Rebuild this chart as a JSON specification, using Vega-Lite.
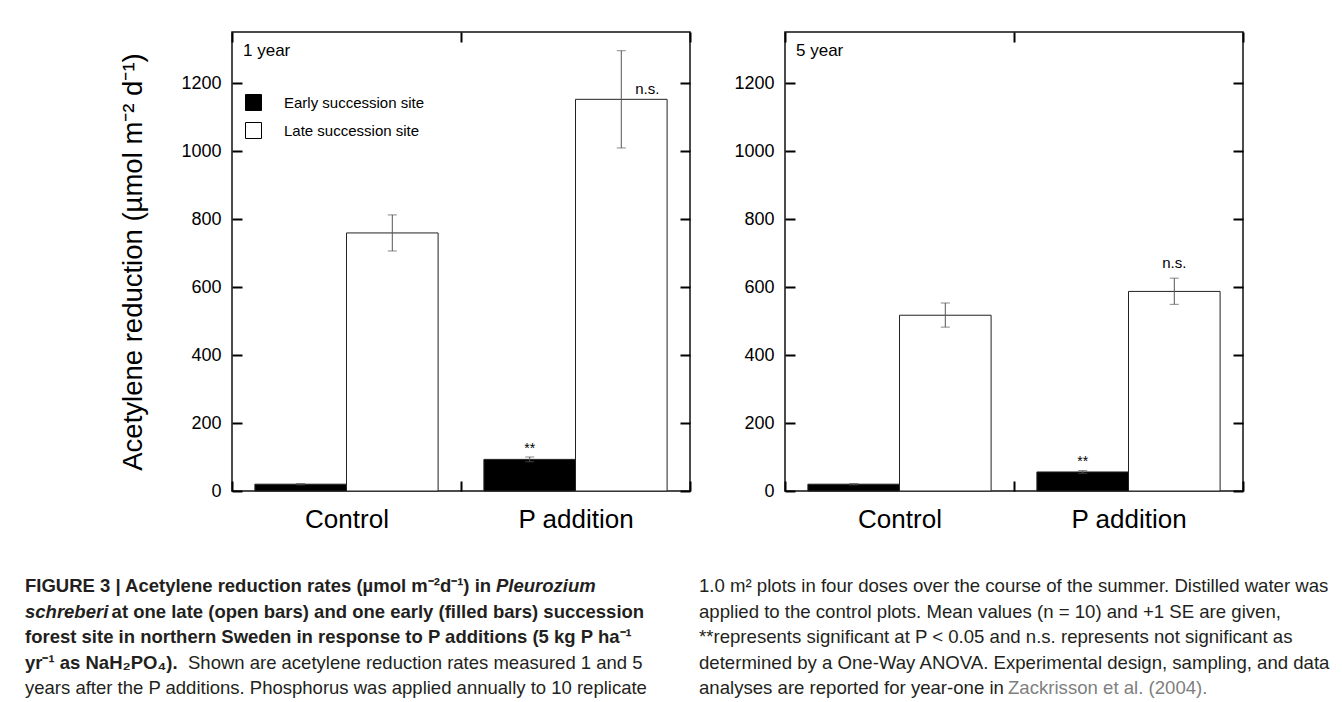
{
  "$schema": "https://vega.github.io/schema/vega-lite/v6.json",
  "padding": {"left": 25, "top": 30, "right": 0, "bottom": 0},
  "background": "white",
  "datasets": {
    "bars": [
      {"year": "1 year", "treatment": "Control", "site": "Early succession site", "mean": 20, "lo": 18, "hi": 22, "sig": ""},
      {"year": "1 year", "treatment": "Control", "site": "Late succession site", "mean": 759, "lo": 706, "hi": 812, "sig": ""},
      {"year": "1 year", "treatment": "P addition", "site": "Early succession site", "mean": 93, "lo": 86, "hi": 100, "sig": "**"},
      {"year": "1 year", "treatment": "P addition", "site": "Late succession site", "mean": 1152, "lo": 1009, "hi": 1295, "sig": "n.s."},
      {"year": "5 year", "treatment": "Control", "site": "Early succession site", "mean": 20, "lo": 18, "hi": 22, "sig": ""},
      {"year": "5 year", "treatment": "Control", "site": "Late succession site", "mean": 517, "lo": 482, "hi": 553, "sig": ""},
      {"year": "5 year", "treatment": "P addition", "site": "Early succession site", "mean": 56, "lo": 52, "hi": 60, "sig": "**"},
      {"year": "5 year", "treatment": "P addition", "site": "Late succession site", "mean": 587, "lo": 549, "hi": 626, "sig": "n.s."}
    ],
    "caption": [
      {"col": "L", "line": 1, "seg": "b", "text": "FIGURE 3 | Acetylene reduction rates (µmol m⁻²d⁻¹) in"},
      {"col": "L", "line": 1, "seg": "p1", "text": "Pleurozium"},
      {"col": "L", "line": 2, "seg": "bi", "text": "schreberi"},
      {"col": "L", "line": 2, "seg": "p2", "text": "at one late (open bars) and one early (filled bars) succession"},
      {"col": "L", "line": 3, "seg": "b", "text": "forest site in northern Sweden in response to P additions (5 kg P ha⁻¹"},
      {"col": "L", "line": 4, "seg": "b", "text": "yr⁻¹ as NaH₂PO₄)."},
      {"col": "L", "line": 4, "seg": "p4", "text": "Shown are acetylene reduction rates measured 1 and 5"},
      {"col": "L", "line": 5, "seg": "n", "text": "years after the P additions. Phosphorus was applied annually to 10 replicate"},
      {"col": "R", "line": 1, "seg": "n", "text": "1.0 m² plots in four doses over the course of the summer. Distilled water was"},
      {"col": "R", "line": 2, "seg": "n", "text": "applied to the control plots. Mean values (n = 10) and +1 SE are given,"},
      {"col": "R", "line": 3, "seg": "n", "text": "**represents significant at P < 0.05 and n.s. represents not significant as"},
      {"col": "R", "line": 4, "seg": "n", "text": "determined by a One-Way ANOVA. Experimental design, sampling, and data"},
      {"col": "R", "line": 5, "seg": "n", "text": "analyses are reported for year-one in"},
      {"col": "R", "line": 5, "seg": "p5", "text": "Zackrisson et al. (2004)."}
    ]
  },
  "concat": [
    {
      "width": 458,
      "height": 459,
      "data": {"name": "bars"},
      "transform": [{"filter": "datum.year === '1 year'"}],
      "layer": [
        {
          "mark": {"type": "bar", "stroke": "#222", "strokeWidth": 1},
          "encoding": {
            "x": {"field": "treatment", "type": "nominal", "scale": {"paddingInner": 0, "paddingOuter": 0},
              "axis": {"orient": "bottom", "title": null, "labelAngle": 0, "labelFontSize": 26, "labelPadding": 25, "tickSize": -10, "tickBand": "extent"}},
            "xOffset": {"field": "site", "type": "nominal", "scale": {"paddingInner": 0, "paddingOuter": 0.25}},
            "y": {"field": "mean", "type": "quantitative", "scale": {"domain": [0, 1350], "nice": false},
              "axis": {"orient": "left", "values": [0, 200, 400, 600, 800, 1000, 1200], "format": "d", "labelFontSize": 18, "labelPadding": 21, "tickSize": -10,
                "title": "Acetylene reduction (µmol m⁻² d⁻¹)", "titleFontSize": 27.5, "titleFontWeight": "normal", "titleColor": "black", "titlePadding": 33}},
            "color": {"field": "site", "type": "nominal",
              "scale": {"domain": ["Early succession site", "Late succession site"], "range": ["black", "white"]},
              "legend": {"orient": "none", "legendX": 13, "legendY": 62, "title": null, "symbolType": "square", "symbolSize": 256,
                "symbolStrokeColor": "black", "symbolStrokeWidth": 1, "labelFontSize": 15, "labelOffset": 22, "rowPadding": 7, "padding": 0, "labelColor": "black"}}
          }
        },
        {
          "mark": {"type": "rule", "color": "#555", "strokeWidth": 1},
          "encoding": {
            "x": {"field": "treatment", "type": "nominal", "axis": {"orient": "top", "labels": false, "title": null, "tickSize": -10, "tickBand": "extent"}},
            "xOffset": {"field": "site", "type": "nominal"},
            "y": {"field": "lo", "type": "quantitative", "axis": {"orient": "right", "labels": false, "title": null, "tickSize": -10, "values": [0, 200, 400, 600, 800, 1000, 1200]}},
            "y2": {"field": "hi"}
          }
        },
        {
          "mark": {"type": "tick", "color": "#555", "thickness": 1, "size": 9},
          "encoding": {
            "x": {"field": "treatment", "type": "nominal", "axis": null},
            "xOffset": {"field": "site", "type": "nominal"},
            "y": {"field": "lo", "type": "quantitative", "axis": null}
          }
        },
        {
          "mark": {"type": "tick", "color": "#555", "thickness": 1, "size": 9},
          "encoding": {
            "x": {"field": "treatment", "type": "nominal", "axis": null},
            "xOffset": {"field": "site", "type": "nominal"},
            "y": {"field": "hi", "type": "quantitative", "axis": null}
          }
        },
        {
          "transform": [{"filter": "datum.sig === '**'"}],
          "mark": {"type": "text", "baseline": "alphabetic", "fontSize": 14, "dy": -4, "color": "black"},
          "encoding": {
            "x": {"field": "treatment", "type": "nominal", "axis": null},
            "xOffset": {"field": "site", "type": "nominal"},
            "y": {"field": "hi", "type": "quantitative", "axis": null},
            "text": {"field": "sig"}
          }
        },
        {
          "transform": [{"filter": "datum.sig === 'n.s.'"}],
          "mark": {"type": "text", "baseline": "alphabetic", "fontSize": 15, "dx": 26, "dy": -5, "color": "black"},
          "encoding": {
            "x": {"field": "treatment", "type": "nominal", "axis": null},
            "xOffset": {"field": "site", "type": "nominal"},
            "y": {"field": "mean", "type": "quantitative", "axis": null},
            "text": {"field": "sig"}
          }
        },
        {
          "data": {"values": [{"label": "1 year"}]},
          "mark": {"type": "text", "align": "left", "baseline": "alphabetic", "fontSize": 17, "dx": 11, "color": "black"},
          "encoding": {
            "x": {"datum": "Control", "type": "nominal", "bandPosition": 0, "axis": null},
            "y": {"datum": 1279, "type": "quantitative", "axis": null},
            "text": {"field": "label"}
          }
        }
      ]
    },
    {
      "width": 458,
      "height": 459,
      "data": {"name": "bars"},
      "transform": [{"filter": "datum.year === '5 year'"}],
      "layer": [
        {
          "mark": {"type": "bar", "stroke": "#222", "strokeWidth": 1},
          "encoding": {
            "x": {"field": "treatment", "type": "nominal", "scale": {"paddingInner": 0, "paddingOuter": 0},
              "axis": {"orient": "bottom", "title": null, "labelAngle": 0, "labelFontSize": 26, "labelPadding": 25, "tickSize": -10, "tickBand": "extent"}},
            "xOffset": {"field": "site", "type": "nominal", "scale": {"paddingInner": 0, "paddingOuter": 0.25}},
            "y": {"field": "mean", "type": "quantitative", "scale": {"domain": [0, 1350], "nice": false},
              "axis": {"orient": "left", "values": [0, 200, 400, 600, 800, 1000, 1200], "format": "d", "labelFontSize": 18, "labelPadding": 21, "tickSize": -10, "title": null}},
            "color": {"field": "site", "type": "nominal",
              "scale": {"domain": ["Early succession site", "Late succession site"], "range": ["black", "white"]},
              "legend": null}
          }
        },
        {
          "mark": {"type": "rule", "color": "#555", "strokeWidth": 1},
          "encoding": {
            "x": {"field": "treatment", "type": "nominal", "axis": {"orient": "top", "labels": false, "title": null, "tickSize": -10, "tickBand": "extent"}},
            "xOffset": {"field": "site", "type": "nominal"},
            "y": {"field": "lo", "type": "quantitative", "axis": {"orient": "right", "labels": false, "title": null, "tickSize": -10, "values": [0, 200, 400, 600, 800, 1000, 1200]}},
            "y2": {"field": "hi"}
          }
        },
        {
          "mark": {"type": "tick", "color": "#555", "thickness": 1, "size": 9},
          "encoding": {
            "x": {"field": "treatment", "type": "nominal", "axis": null},
            "xOffset": {"field": "site", "type": "nominal"},
            "y": {"field": "lo", "type": "quantitative", "axis": null}
          }
        },
        {
          "mark": {"type": "tick", "color": "#555", "thickness": 1, "size": 9},
          "encoding": {
            "x": {"field": "treatment", "type": "nominal", "axis": null},
            "xOffset": {"field": "site", "type": "nominal"},
            "y": {"field": "hi", "type": "quantitative", "axis": null}
          }
        },
        {
          "transform": [{"filter": "datum.sig === '**'"}],
          "mark": {"type": "text", "baseline": "alphabetic", "fontSize": 14, "dy": -5, "color": "black"},
          "encoding": {
            "x": {"field": "treatment", "type": "nominal", "axis": null},
            "xOffset": {"field": "site", "type": "nominal"},
            "y": {"field": "hi", "type": "quantitative", "axis": null},
            "text": {"field": "sig"}
          }
        },
        {
          "transform": [{"filter": "datum.sig === 'n.s.'"}],
          "mark": {"type": "text", "baseline": "alphabetic", "fontSize": 15, "dy": -10, "color": "black"},
          "encoding": {
            "x": {"field": "treatment", "type": "nominal", "axis": null},
            "xOffset": {"field": "site", "type": "nominal"},
            "y": {"field": "hi", "type": "quantitative", "axis": null},
            "text": {"field": "sig"}
          }
        },
        {
          "data": {"values": [{"label": "5 year"}]},
          "mark": {"type": "text", "align": "left", "baseline": "alphabetic", "fontSize": 17, "dx": 11, "color": "black"},
          "encoding": {
            "x": {"datum": "Control", "type": "nominal", "bandPosition": 0, "axis": null},
            "y": {"datum": 1279, "type": "quantitative", "axis": null},
            "text": {"field": "label"}
          }
        }
      ]
    },
    {
      "width": 458,
      "height": 102,
      "view": {"stroke": null},
      "data": {"name": "caption"},
      "transform": [{"filter": "datum.col === 'L'"}],
      "encoding": {
        "x": {"field": "col", "type": "nominal", "scale": {"type": "point", "padding": 0, "align": 0}, "axis": null},
        "y": {"field": "line", "type": "ordinal", "scale": {"type": "point", "padding": 0, "domain": [1, 2, 3, 4, 5]}, "axis": null},
        "text": {"field": "text"}
      },
      "layer": [
        {"transform": [{"filter": "datum.seg === 'b'"}], "mark": {"type": "text", "align": "left", "baseline": "alphabetic", "dx": -207, "fontSize": 18.5, "fontWeight": "bold", "color": "#231f20"}},
        {"transform": [{"filter": "datum.seg === 'bi'"}], "mark": {"type": "text", "align": "left", "baseline": "alphabetic", "dx": -207, "fontSize": 18.5, "fontWeight": "bold", "fontStyle": "italic", "color": "#231f20"}},
        {"transform": [{"filter": "datum.seg === 'n'"}], "mark": {"type": "text", "align": "left", "baseline": "alphabetic", "dx": -207, "fontSize": 18.5, "color": "#231f20"}},
        {"transform": [{"filter": "datum.seg === 'p1'"}], "mark": {"type": "text", "align": "left", "baseline": "alphabetic", "dx": 264, "fontSize": 18.5, "fontWeight": "bold", "fontStyle": "italic", "color": "#231f20"}},
        {"transform": [{"filter": "datum.seg === 'p2'"}], "mark": {"type": "text", "align": "left", "baseline": "alphabetic", "dx": -120.4, "fontSize": 18.5, "fontWeight": "bold", "color": "#231f20"}},
        {"transform": [{"filter": "datum.seg === 'p4'"}], "mark": {"type": "text", "align": "left", "baseline": "alphabetic", "dx": -44, "fontSize": 18.5, "color": "#231f20"}}
      ]
    },
    {
      "width": 458,
      "height": 102,
      "view": {"stroke": null},
      "data": {"name": "caption"},
      "transform": [{"filter": "datum.col === 'R'"}],
      "encoding": {
        "x": {"field": "col", "type": "nominal", "scale": {"type": "point", "padding": 0, "align": 0}, "axis": null},
        "y": {"field": "line", "type": "ordinal", "scale": {"type": "point", "padding": 0, "domain": [1, 2, 3, 4, 5]}, "axis": null},
        "text": {"field": "text"}
      },
      "layer": [
        {"transform": [{"filter": "datum.seg === 'n'"}], "mark": {"type": "text", "align": "left", "baseline": "alphabetic", "dx": -86, "fontSize": 18.6, "color": "#231f20"}},
        {"transform": [{"filter": "datum.seg === 'p5'"}], "mark": {"type": "text", "align": "left", "baseline": "alphabetic", "dx": 223, "fontSize": 18.6, "color": "#808080"}}
      ]
    }
  ],
  "columns": 2,
  "spacing": {"row": 101, "column": 95},
  "bounds": "flush",
  "resolve": {
    "scale": {"color": "independent", "x": "independent", "y": "independent", "xOffset": "independent"},
    "legend": {"color": "independent"}
  },
  "config": {
    "font": "Liberation Sans",
    "view": {"stroke": "#111", "strokeWidth": 1.5},
    "axis": {"grid": false, "domain": false, "tickColor": "black", "tickWidth": 2, "labelColor": "black", "labelFont": "Liberation Sans", "titleFont": "Liberation Sans"},
    "legend": {"labelFont": "Liberation Sans"}
  }
}
